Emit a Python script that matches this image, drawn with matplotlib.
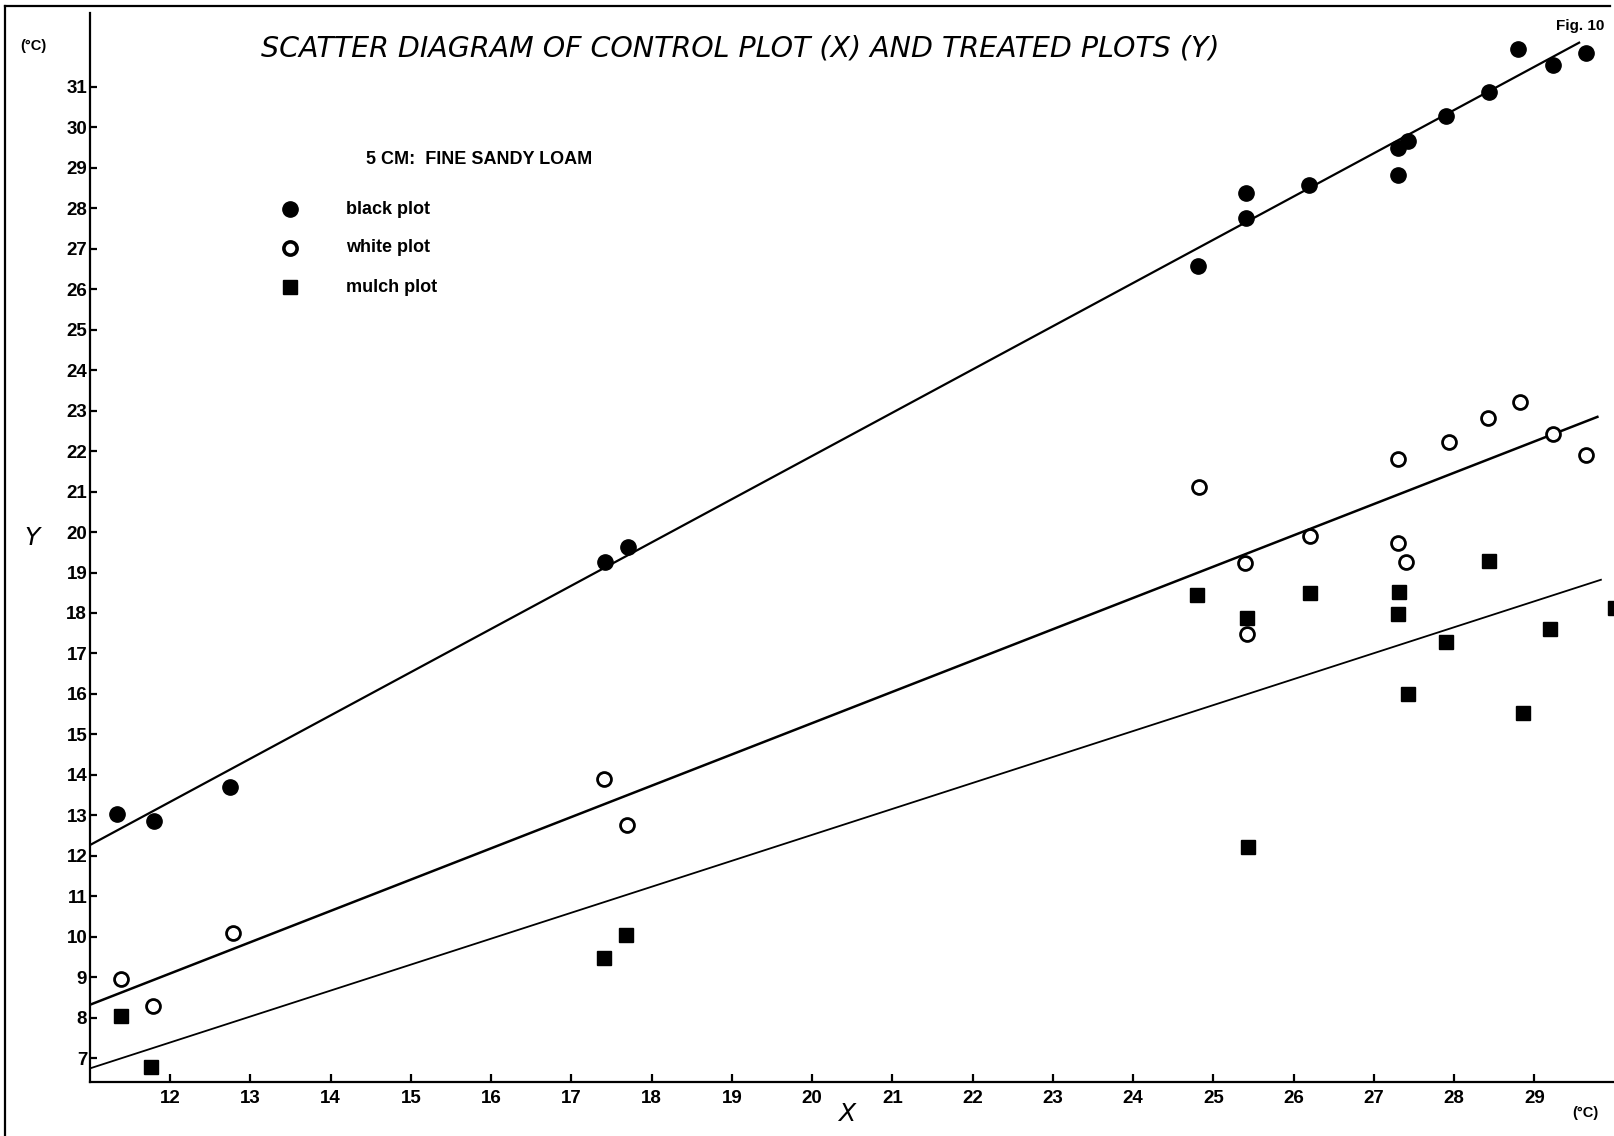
import matplotlib
matplotlib.use("Agg")
import matplotlib.pyplot as plt
from matplotlib.lines import Line2D
import numpy as np

# Control plot temperature (X) against treated plot temperature (Y), 5 cm depth
black_x = [11.34, 11.80, 12.75, 17.42, 17.71, 24.81, 25.41, 25.41, 26.19,
           27.30, 27.42, 27.30, 27.90, 28.44, 28.80, 29.23, 29.64]
black_y = [13.03, 12.87, 13.69, 19.27, 19.62, 26.57, 28.37, 27.75, 28.56,
           29.48, 29.66, 28.82, 30.28, 30.86, 31.93, 31.54, 31.83]

white_x = [11.39, 11.78, 12.78, 17.40, 17.69, 24.82, 25.40, 25.42, 26.21,
           27.30, 27.40, 27.30, 27.93, 28.42, 28.82, 29.23, 29.64]
white_y = [8.95, 8.30, 10.09, 13.90, 12.76, 21.12, 19.23, 17.47, 19.89,
           19.74, 19.27, 21.80, 22.23, 22.81, 23.21, 22.42, 21.90]

mulch_x = [11.39, 11.76, 17.40, 17.68, 24.80, 25.42, 25.43, 26.21, 27.31,
           27.30, 27.42, 27.90, 28.43, 28.86, 29.20, 30.00]
mulch_y = [8.04, 6.79, 9.47, 10.05, 18.45, 17.88, 12.23, 18.50, 18.51,
           17.97, 16.00, 17.29, 19.29, 15.54, 17.61, 18.13]

# Fitted regression lines: (intercept, slope) and x extent
black_fit = (0.52, 1.068)
white_fit = (-0.18, 0.773)
mulch_fit = (-0.30, 0.641)
fit_x_start = 11.0
fit_x_end = [29.57, 29.80, 29.84]

x_ticks = list(range(12, 30))
y_ticks = list(range(7, 32))

W, H = 1615, 1136
fig = plt.figure(figsize=(W / 100, H / 100), dpi=100)
fig.patch.set_facecolor("white")

ax = fig.add_axes([90 / W, 1 - 1081.7 / H, (1613 - 90) / W, (1081.7 - 12.7) / H])
ax.set_xlim(11.0, 29.98)
ax.set_ylim(6.422, 32.828)

for sp in ("top", "right"):
    ax.spines[sp].set_visible(False)
for sp in ("left", "bottom"):
    ax.spines[sp].set_linewidth(1.6)
    ax.spines[sp].set_color("black")

sans = ["Liberation Sans", "DejaVu Sans"]
tick_font = dict(family=sans, weight="bold", size=13.5)
ax.set_xticks(x_ticks)
ax.set_yticks(y_ticks)
ax.set_xticklabels([str(v) for v in x_ticks], fontdict=tick_font)
ax.set_yticklabels([str(v) for v in y_ticks], fontdict=tick_font)
ax.tick_params(axis="x", direction="in", length=6, width=1.6, pad=6)
ax.tick_params(axis="y", direction="in", length=5, width=1.6, pad=2)

# Regression lines
for (a, b), xe, lw in zip([black_fit, white_fit, mulch_fit], fit_x_end, [1.6, 1.8, 1.3]):
    xs = np.array([fit_x_start, xe])
    ax.plot(xs, a + b * xs, color="black", lw=lw, solid_capstyle="butt", zorder=2)

# Data points
ax.plot(black_x, black_y, "o", ms=11, color="black", mec="black", zorder=3)
ax.plot(white_x, white_y, "o", ms=10, mfc="white", mec="black", mew=2.0, zorder=3)
ax.plot(mulch_x, mulch_y, "s", ms=9.5, color="black", mec="black", zorder=3,
        clip_on=False)

# Texts
def fx(px):
    return px / W


def fy(py):
    return 1 - py / H


fig.text(fx(740), fy(49), "SCATTER DIAGRAM OF CONTROL PLOT (X) AND TREATED PLOTS (Y)",
         ha="center", va="center", fontsize=20.5, style="italic", weight="light",
         family="DejaVu Sans")
fig.text(fx(1604), fy(26), "Fig. 10", ha="right", va="center", fontsize=11,
         weight="bold", family=sans)
fig.text(fx(33), fy(46), "(°C)", ha="center", va="center", fontsize=10.5,
         weight="bold", family=sans)
fig.text(fx(1585), fy(1113), "(°C)", ha="center", va="center", fontsize=10.5,
         weight="bold", family=sans)
fig.text(fx(847), fy(1114), "X", ha="center", va="center", fontsize=18,
         style="italic", weight="light", family="DejaVu Sans")
fig.text(fx(32), fy(538), "Y", ha="center", va="center", fontsize=18,
         style="italic", weight="light", family="DejaVu Sans")

# Legend block
fig.text(fx(366), fy(159), "5 CM:  FINE SANDY LOAM", ha="left", va="center",
         fontsize=13, weight="bold", family=sans)
legend_labels = ["black plot", "white plot", "mulch plot"]
legend_rows = [209, 248, 287]
legend_styles = [
    dict(marker="o", ms=11, mfc="black", mec="black"),
    dict(marker="o", ms=9.5, mfc="white", mec="black", mew=2.6),
    dict(marker="s", ms=9.5, mfc="black", mec="black"),
]
for lab, row, sty in zip(legend_labels, legend_rows, legend_styles):
    fig.add_artist(Line2D([fx(290.5)], [fy(row)], transform=fig.transFigure,
                          linestyle="none", **sty))
    fig.text(fx(346), fy(row), lab, ha="left", va="center", fontsize=13,
             weight="bold", family=sans)

# Outer frame lines of the figure panel
fig.add_artist(Line2D([fx(4.5), fx(4.5)], [fy(6), fy(H)], transform=fig.transFigure,
                      color="black", lw=1.6))
fig.add_artist(Line2D([fx(4.5), fx(1610)], [fy(6.3), fy(6.3)], transform=fig.transFigure,
                      color="black", lw=1.6))

fig.savefig("out.png", dpi=100, facecolor="white")
